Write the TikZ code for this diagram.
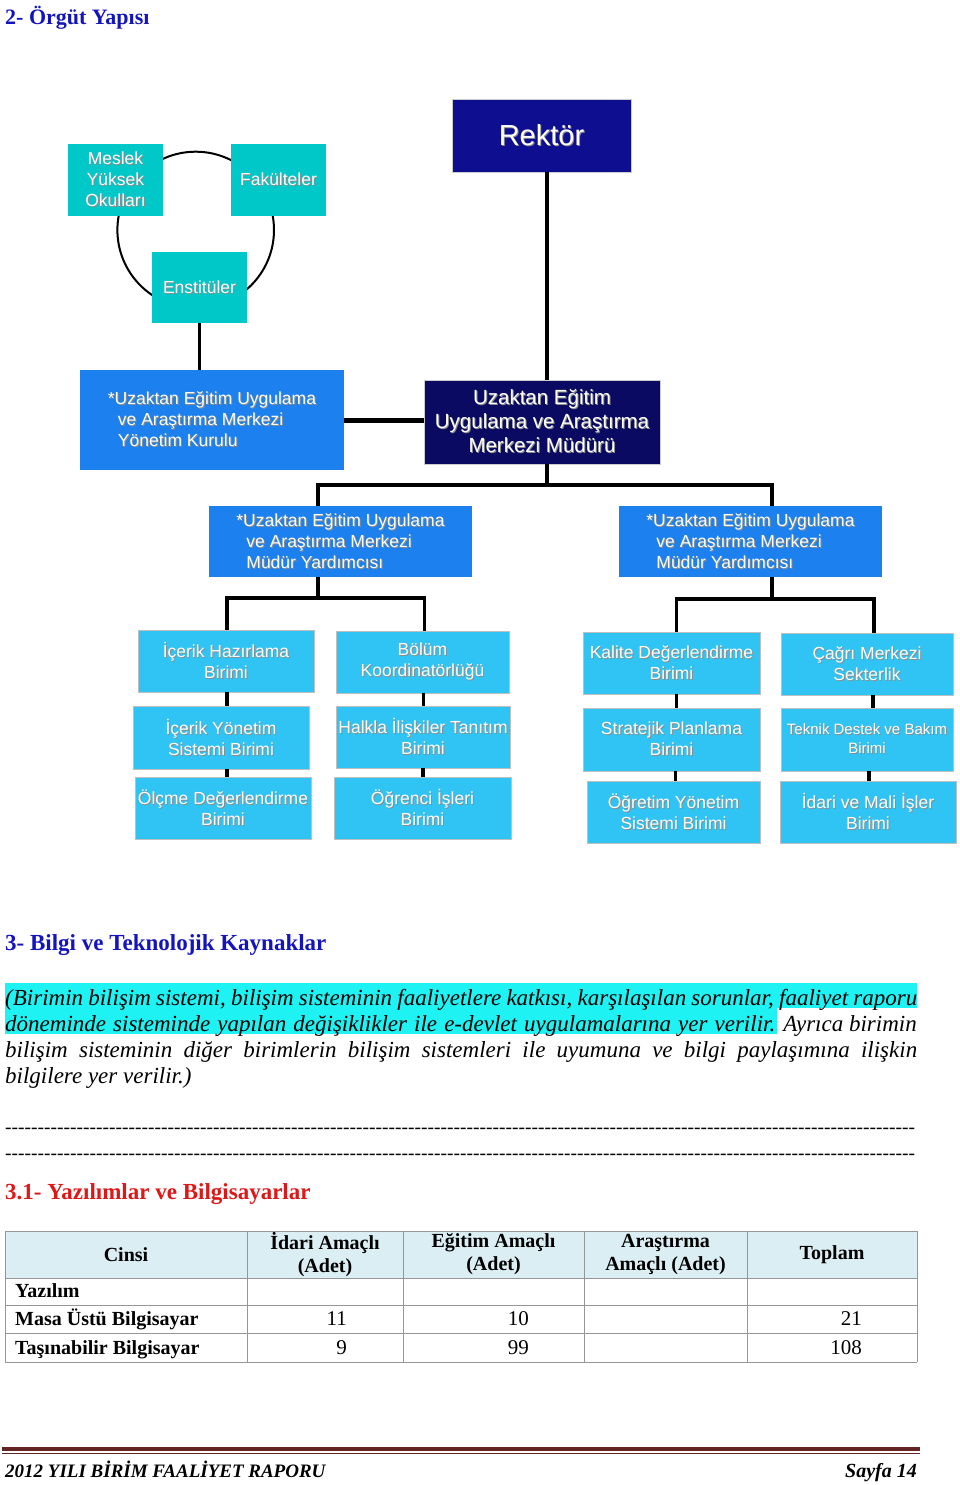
\documentclass[tikz,border=0pt]{standalone}
\usepackage{fontspec}
\setmainfont{Liberation Serif}
\setsansfont{Liberation Sans}

\definecolor{rektorblue}{RGB}{14,14,145}
\definecolor{mudurblue}{RGB}{10,10,98}
\definecolor{kurulblue}{RGB}{28,128,238}
\definecolor{unitblue}{RGB}{48,196,245}
\definecolor{tealbox}{RGB}{0,200,200}
\definecolor{headblue}{RGB}{20,20,190}
\definecolor{headred}{RGB}{222,24,24}
\definecolor{hilite}{RGB}{30,242,242}
\definecolor{tablehead}{RGB}{219,238,243}
\definecolor{gridgray}{RGB}{150,150,150}
\definecolor{footmaroon}{RGB}{99,36,35}

% white label with a soft dark shadow
\newcommand\shd[1]{\leavevmode\rlap{\raisebox{-1pt}{\hspace*{1pt}\textcolor{black!45}{#1}}}#1}

\begin{document}
\begin{tikzpicture}[x=1pt, y=-1pt,
  box/.style={rectangle, inner sep=0pt, align=center, text=white, font=\sffamily},
  tealunit/.style={box, fill=tealbox, minimum width=95pt, minimum height=72pt,
    font=\sffamily\fontsize{17.5}{21}\selectfont},
  yardbox/.style={box, fill=kurulblue, align=left, minimum width=263pt, minimum height=71pt,
    font=\sffamily\fontsize{17.5}{21}\selectfont},
  unit/.style={box, fill=unitblue, draw=black!25, line width=0.8pt, minimum height=62pt,
    font=\sffamily\fontsize{17.5}{21}\selectfont},
  conn/.style={line width=3.5pt},
  heading/.style={inner sep=0pt, anchor=base west, font=\bfseries\fontsize{23}{26}\selectfont},
  ptext/.style={inner sep=0pt, anchor=base west, font=\itshape\fontsize{23}{26}\selectfont},
  cell/.style={inner sep=0pt, anchor=base, font=\fontsize{21}{23}\selectfont}]
  \useasboundingbox (0,0) rectangle (960,1485);

  % page heading
  \node[heading, text=headblue, font=\bfseries\fontsize{22}{26}\selectfont] (h2) at (5,25) {2- Örgüt Yapısı};

  % ring behind the three faculty boxes
  \coordinate (ringc) at (195.7,230);
  \draw[line width=2pt] (ringc) circle[radius=78.3];

  % top of the chart
  \node[box, fill=rektorblue, draw=black!20, minimum width=179pt, minimum height=73pt,
    font=\sffamily\fontsize{29}{34}\selectfont] (rektor) at (541.5,135.5) {\shd{Rektör}};
  \node[tealunit] (meslek) at (115.5,180) {\shd{Meslek}\\\shd{Yüksek}\\\shd{Okulları}};
  \node[tealunit] (fakulte) at (278.5,180) {\shd{Fakülteler}};
  \node[tealunit, minimum height=71pt] (enstitu) at (199.5,287.5) {\shd{Enstitüler}};
  \node[box, fill=kurulblue, align=left, minimum width=264pt, minimum height=100pt,
    font=\sffamily\fontsize{17.5}{21}\selectfont] (kurul) at (212,420)
    {\shd{*Uzaktan Eğitim Uygulama}\\\hspace*{10pt}\shd{ve Araştırma Merkezi}\\\hspace*{10pt}\shd{Yönetim Kurulu}};
  \node[box, fill=mudurblue, draw=black!20, minimum width=236pt, minimum height=84pt,
    font=\sffamily\fontsize{20.5}{24}\selectfont] (mudur) at (542,422)
    {\shd{Uzaktan Eğitim}\\\shd{Uygulama ve Araştırma}\\\shd{Merkezi Müdürü}};

  % assistant directors
  \node[yardbox] (yardL) at (340.5,541.5)
    {\shd{*Uzaktan Eğitim Uygulama}\\\hspace*{10pt}\shd{ve Araştırma Merkezi}\\\hspace*{10pt}\shd{Müdür Yardımcısı}};
  \node[yardbox] (yardR) at (750.5,541.5)
    {\shd{*Uzaktan Eğitim Uygulama}\\\hspace*{10pt}\shd{ve Araştırma Merkezi}\\\hspace*{10pt}\shd{Müdür Yardımcısı}};

  % units, left group
  \node[unit, minimum width=176pt] (ich) at (226,661) {\shd{İçerik Hazırlama}\\\shd{Birimi}};
  \node[unit, minimum width=176pt, minimum height=63pt] (icy) at (221,737.5) {\shd{İçerik Yönetim}\\\shd{Sistemi Birimi}};
  \node[unit, minimum width=176pt] (olc) at (223,808) {\shd{Ölçme Değerlendirme}\\\shd{Birimi}};
  \node[unit, minimum width=173pt] (bol) at (422.5,662) {\shd{Bölüm}\\\shd{Koordinatörlüğü}};
  \node[unit, minimum width=174pt] (hal) at (423,737) {\shd{Halkla İlişkiler Tanıtım}\\\shd{Birimi}};
  \node[unit, minimum width=177pt] (ogr) at (422.5,808) {\shd{Öğrenci İşleri}\\\shd{Birimi}};
  % units, right group
  \node[unit, minimum width=177pt] (kal) at (671.5,663) {\shd{Kalite Değerlendirme}\\\shd{Birimi}};
  \node[unit, minimum width=177pt, minimum height=63pt] (str) at (671.5,739.5) {\shd{Stratejik Planlama}\\\shd{Birimi}};
  \node[unit, minimum width=173pt] (ogt) at (673.5,812) {\shd{Öğretim Yönetim}\\\shd{Sistemi Birimi}};
  \node[unit, minimum width=172pt] (cag) at (867,664) {\shd{Çağrı Merkezi}\\\shd{Sekterlik}};
  \node[unit, minimum width=172pt, minimum height=63pt, font=\sffamily\fontsize{15}{19}\selectfont]
    (tek) at (867,739.5) {\shd{Teknik Destek ve Bakım}\\\shd{Birimi}};
  \node[unit, minimum width=176pt] (ida) at (868,812) {\shd{İdari ve Mali İşler}\\\shd{Birimi}};

  % connectors
  \coordinate (mj) at (547,485);
  \coordinate (yl) at (318,485);
  \coordinate (yr) at (772,485);
  \draw[conn] (enstitu.south) -- (enstitu.south |- kurul.north);
  \draw[line width=5pt] (kurul.east) -- (kurul.east -| mudur.west);
  \draw[conn] (rektor.south -| mj) -- (mudur.north -| mj);
  \draw[conn] (mudur.south -| mj) -- (mj);
  \draw[conn] (yl |- yardL.north) -- (yl) -- (yr) -- (yr |- yardR.north);
  \coordinate (lj) at (318,598);
  \draw[conn] (yardL.south -| lj) -- (lj);
  \draw[conn] ([xshift=1pt]ich.north) |- (lj) -| ([xshift=2pt]bol.north);
  \coordinate (rj) at (772,599);
  \draw[conn] (yardR.south -| rj) -- (rj);
  \draw[conn] ([xshift=5pt]kal.north) |- (rj) -| ([xshift=7pt]cag.north);
  \foreach \a/\b/\d in {ich/icy/1, icy/olc/6, bol/hal/1, hal/ogr/0, kal/str/5, str/ogt/4, cag/tek/6, tek/ida/2}
    \draw[conn] ([xshift=\d pt]\a.south) -- ([xshift=\d pt]\a.south |- \b.north);

  % section 3
  \node[heading, text=headblue] (h3) at (5,950) {3- Bilgi ve Teknolojik Kaynaklar};
  \fill[hilite] (5,983) rectangle (917,1008);
  \fill[hilite] (5,1008) rectangle (777,1034);
  \node[ptext] (p1) at (5,1005)
    {\makebox[912pt][s]{(Birimin bilişim sistemi, bilişim sisteminin faaliyetlere katkısı, karşılaşılan sorunlar, faaliyet raporu}};
  \node[ptext] (p2a) at (5,1031)
    {\makebox[770pt][s]{döneminde sisteminde yapılan değişiklikler ile e-devlet uygulamalarına yer verilir.}};
  \node[ptext, anchor=base east] (p2b) at (917,1031) {Ayrıca birimin};
  \node[ptext] (p3) at (5,1057)
    {\makebox[912pt][s]{bilişim sisteminin diğer birimlerin bilişim sistemleri ile uyumuna ve bilgi paylaşımına ilişkin}};
  \node[ptext] (p4) at (5,1083) {bilgilere yer verilir.)};
  \node[ptext, font=\fontsize{19.5}{26}\selectfont] (dash1) at (5,1133) {\makebox[910pt]{\xleaders\hbox{-}\hfill}};
  \node[ptext, font=\fontsize{19.5}{26}\selectfont] (dash2) at (5,1159) {\makebox[910pt]{\xleaders\hbox{-}\hfill}};

  % section 3.1 and table
  \node[heading, text=headred] (h31) at (5,1199) {3.1- Yazılımlar ve Bilgisayarlar};
  \fill[tablehead] (5,1231) rectangle (917,1278);
  \foreach \yy in {1231,1278,1305,1333,1362}
    \draw[gridgray, line width=1pt] (5,\yy) -- (917,\yy);
  \foreach \xx in {5,247,403,584,747,917}
    \draw[gridgray, line width=1pt] (\xx,1231) -- (\xx,1362);
  \node[cell, anchor=center, align=center, font=\bfseries\fontsize{20}{23}\selectfont] (hcins) at (126,1254.5) {Cinsi};
  \node[cell, anchor=center, align=center, font=\bfseries\fontsize{20}{23}\selectfont] (hidari) at (325,1254.5) {İdari Amaçlı\\(Adet)};
  \node[cell, anchor=center, align=center, font=\bfseries\fontsize{20}{23}\selectfont] (hegit) at (493.5,1254.5) {Eğitim Amaçlı\\(Adet)};
  \node[cell, anchor=center, align=center, font=\bfseries\fontsize{20}{23}\selectfont] (harast) at (665.5,1254.5) {Araştırma\\Amaçlı (Adet)};
  \node[cell, anchor=center, align=center, font=\bfseries\fontsize{20}{23}\selectfont] (htop) at (832,1254.5) {Toplam};
  \node[cell, anchor=base west, font=\bfseries\fontsize{20}{23}\selectfont] (ryaz) at (15,1297) {Yazılım};
  \node[cell, anchor=base west, font=\bfseries\fontsize{20}{23}\selectfont] (rmasa) at (15,1325) {Masa Üstü Bilgisayar};
  \node[cell, anchor=base west, font=\bfseries\fontsize{20}{23}\selectfont] (rtas) at (15,1354) {Taşınabilir Bilgisayar};
  \node[cell, anchor=base east] (m1) at (347,1325) {11};
  \node[cell, anchor=base east] (m2) at (529,1325) {10};
  \node[cell, anchor=base east] (m3) at (862,1325) {21};
  \node[cell, anchor=base east] (t1) at (347,1354) {9};
  \node[cell, anchor=base east] (t2) at (529,1354) {99};
  \node[cell, anchor=base east] (t3) at (862,1354) {108};

  % footer
  \fill[footmaroon] (2,1447) rectangle (920,1451);
  \draw[footmaroon, line width=1pt] (2,1453.5) -- (920,1453.5);
  \node[inner sep=0pt, anchor=base west, font=\bfseries\itshape\fontsize{19}{21}\selectfont] (foot) at (5,1477) {2012 YILI BİRİM FAALİYET RAPORU};
  \node[inner sep=0pt, anchor=base east, font=\bfseries\itshape\fontsize{20}{21}\selectfont] (page) at (917,1477) {Sayfa 14};
\end{tikzpicture}
\end{document}
